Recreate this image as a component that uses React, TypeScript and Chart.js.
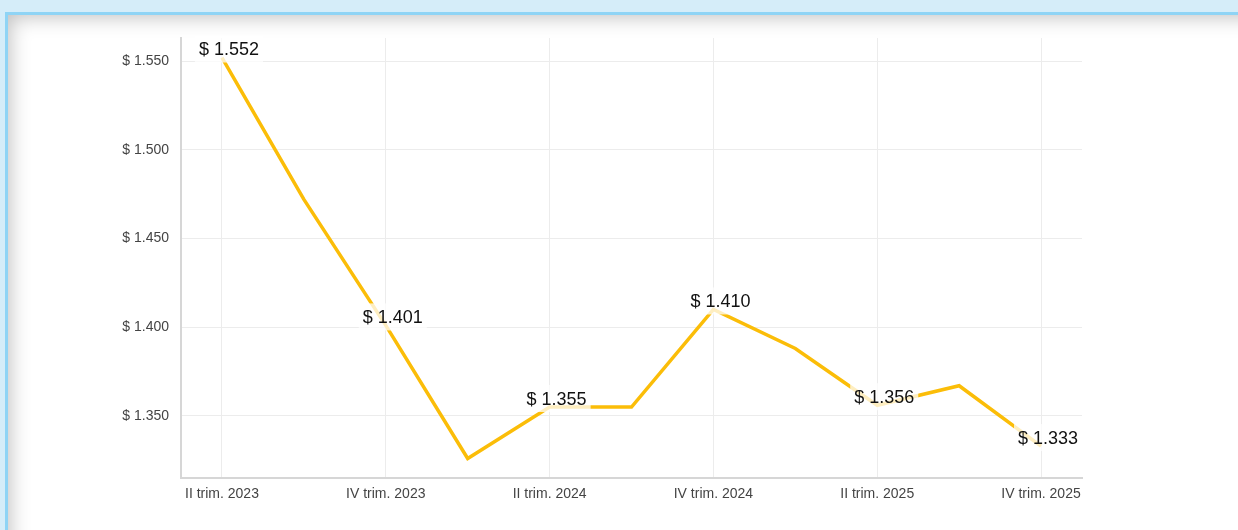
import React, { useEffect, useRef } from "react";
import { Chart, registerables } from "chart.js";

Chart.register(...registerables);

const categories = [
  "II trim. 2023",
  "III trim. 2023",
  "IV trim. 2023",
  "I trim. 2024",
  "II trim. 2024",
  "III trim. 2024",
  "IV trim. 2024",
  "I trim. 2025",
  "II trim. 2025",
  "III trim. 2025",
  "IV trim. 2025",
];

const values = [1552, 1472, 1401, 1326, 1355, 1355, 1410, 1388, 1356, 1367, 1333];

const labeledIndexes = [0, 2, 4, 6, 8, 10];

const yTicks = [1350, 1400, 1450, 1500, 1550];
const yMin = 1315;
const yMax = 1563;

const fmt = (v: number) => "$ " + v.toLocaleString("de-DE");

const labelPlugin = {
  id: "valueLabels",
  afterDatasetsDraw(chart: any) {
    const meta = chart.getDatasetMeta(0);
    const ctx = chart.ctx;
    ctx.save();
    ctx.font = '18px "Liberation Sans", Arial, sans-serif';
    ctx.textAlign = "center";
    ctx.textBaseline = "middle";
    labeledIndexes.forEach((i) => {
      const pt = meta.data[i];
      if (!pt) return;
      const text = fmt(values[i]);
      const w = ctx.measureText(text).width;
      const cx = pt.x + 7;
      const cy = pt.y - 8.5;
      const padX = 4;
      const h = 27;
      ctx.fillStyle = "rgba(255,255,255,0.75)";
      ctx.fillRect(cx - w / 2 - padX, cy - h / 2, w + padX * 2, h);
      ctx.fillStyle = "#111";
      ctx.fillText(text, cx, cy + 1);
    });
    ctx.restore();
  },
};

export default function App() {
  const ref = useRef<HTMLCanvasElement | null>(null);

  useEffect(() => {
    if (!ref.current) return;
    const chart = new Chart(ref.current, {
      type: "line",
      data: {
        labels: categories,
        datasets: [
          {
            data: values,
            borderColor: "#fbbd08",
            borderWidth: 3.5,
            pointRadius: 0,
            tension: 0,
            fill: false,
          },
        ],
      },
      options: {
        animation: false,
        responsive: false,
        maintainAspectRatio: false,
        layout: { padding: { left: 0, right: 156, top: 38, bottom: 22 } },
        plugins: {
          legend: { display: false },
          tooltip: { enabled: false },
        },
        scales: {
          x: {
            offset: true,
            grid: { offset: false, color: "#ececec", drawTicks: false, lineWidth: 1 },
            border: { color: "#d6d6d6", width: 2 },
            ticks: {
              autoSkip: false,
              maxRotation: 0,
              padding: 8,
              color: "#444",
              font: { size: 14, family: '"Liberation Sans", Arial, sans-serif' },
              callback: (_v: any, i: number) => (i % 2 === 0 ? categories[i] : null),
            },
            afterFit: (s: any) => {
              s.height = 30;
            },
          },
          y: {
            min: yMin,
            max: yMax,
            grid: { color: "#ececec", drawTicks: false, lineWidth: 1 },
            border: { color: "#d6d6d6", width: 2 },
            afterBuildTicks: (s: any) => {
              s.ticks = yTicks.map((v) => ({ value: v }));
            },
            ticks: {
              padding: 12,
              color: "#444",
              font: { size: 14, family: '"Liberation Sans", Arial, sans-serif' },
              callback: (v: any) => fmt(Number(v)),
            },
            afterFit: (s: any) => {
              s.width = 181;
            },
          },
        },
      },
      plugins: [labelPlugin],
    });
    return () => chart.destroy();
  }, []);

  return (
    <div
      style={{
        position: "fixed",
        left: 0,
        top: 0,
        width: 1238,
        height: 530,
        overflow: "hidden",
        background: "#d5edf9",
      }}
    >
      <div
        style={{
          position: "absolute",
          left: 5,
          top: 12,
          width: 1400,
          height: 700,
          background: "#fff",
          borderTop: "3px solid #8fd4f5",
          borderLeft: "3px solid #8fd4f5",
          boxShadow: "inset 10px 10px 20px -8px rgba(0,0,0,0.25)",
        }}
      />
      <canvas
        ref={ref}
        width={1238}
        height={530}
        style={{ position: "absolute", left: 0, top: 0, width: 1238, height: 530 }}
      />
    </div>
  );
}
